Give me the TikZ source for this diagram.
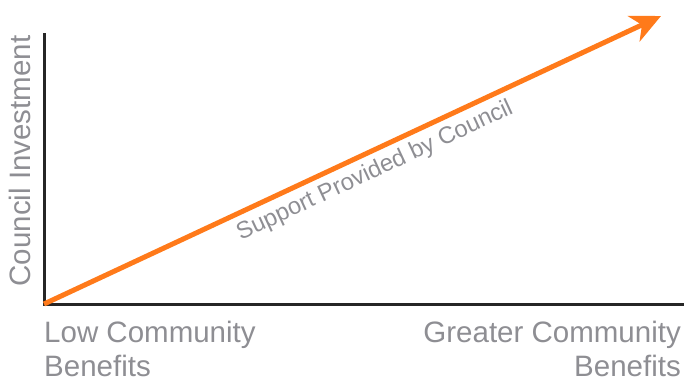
\documentclass[tikz,border=0pt]{standalone}
\usepackage{fontspec}
\setmainfont{Liberation Sans}
\usetikzlibrary{arrows.meta}
\definecolor{axisc}{HTML}{262626}
\definecolor{arrc}{HTML}{FF7A1A}
\definecolor{txtc}{HTML}{8E8E93}
\tikzset{
  axisline/.style={draw=axisc, line width=3pt},
  mainarrow/.style={draw=arrc, line width=5pt, -{Stealth[length=30pt,width=28pt,inset=9pt]}},
  lbl/.style={text=txtc, inner sep=0pt, font=\fontsize{29.5}{34}\selectfont},
  slbl/.style={text=txtc, inner sep=0pt, font=\fontsize{23.8}{28}\selectfont},
}
\begin{document}
\begin{tikzpicture}[x=1pt,y=-1pt]
\useasboundingbox (0,0) rectangle (684,378);
\coordinate (top) at (44,33);
\coordinate (o) at (44,304);
\coordinate (right) at (684,304);
\coordinate (tip) at (661,16);
\draw[axisline] (top) -- (o) -- (right);
\draw[mainarrow] (o) -- (tip);
\node[lbl, rotate=90] (ylab) at (20,161) {Council Investment};
\node[slbl, rotate=25] (alab) at (375,171) {Support Provided by Council};
\node[lbl, anchor=north west, align=left] (low) at (44,321) {Low Community\\Benefits};
\node[lbl, anchor=north east, align=right] (high) at (681,321) {Greater Community\\Benefits};
\end{tikzpicture}
\end{document}
